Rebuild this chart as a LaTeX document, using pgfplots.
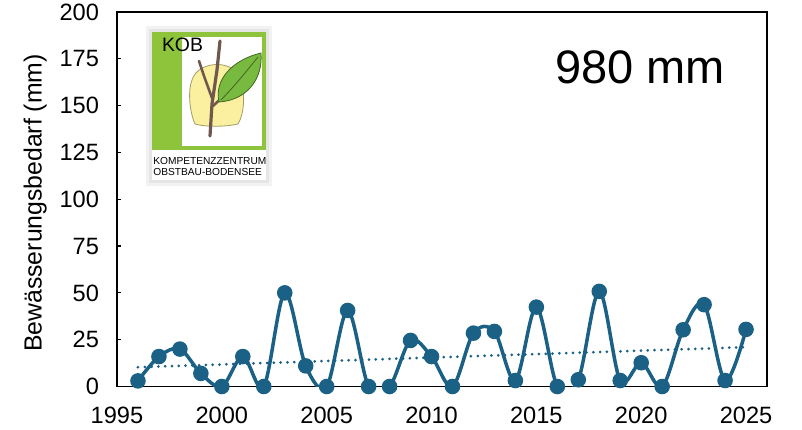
\documentclass[border=0pt]{standalone}
\usepackage{fontspec}
\setmainfont{Liberation Sans}
\usepackage{pgfplots}
\pgfplotsset{compat=1.18}

\definecolor{ser}{RGB}{27,96,133}
\definecolor{kobgreen}{RGB}{141,196,60}
\definecolor{kobyellow}{RGB}{250,240,160}
\definecolor{leafgreen}{RGB}{120,186,64}
\definecolor{branch}{RGB}{112,88,78}

\begin{document}
\begin{tikzpicture}
\begin{axis}[
  scale only axis,
  width=325pt, height=187.25pt,
  xmin=1995, xmax=2026, ymin=0, ymax=200,
  xtick={1995,2000,...,2025},
  ytick={0,25,...,200},
  xtick style={draw=none},
  ytick pos=left, tick align=inside,
  major tick length=2.2pt,
  tick style={black, line width=0.6pt},
  axis line style={black, line width=0.9pt},
  /pgf/number format/assume math mode=true,
  /pgf/number format/1000 sep={},
  tick label style={font=\fontsize{11.8pt}{13pt}\selectfont},
  y tick label style={xshift=-5.5pt},
  x tick label style={yshift=-6.5pt},
  ylabel={Bewässerungsbedarf (mm)},
  ylabel style={font=\fontsize{12.4pt}{14pt}\selectfont, at={(axis description cs:-0.126,0.49)}, anchor=center},
  clip mode=individual,
]
\addplot[ser, line width=1.5pt, dash pattern=on 0pt off 3.4pt, line cap=round]
  coordinates {(1996,10.3) (2025,21.0)};
\addplot[ser, line width=1.75pt, smooth, tension=0.55, mark=*, mark size=3pt,
  mark options={solid}] table {
x y
1996 3
1997 16
1998 20
1999 7
2000 0
2001 16
2002 0
2003 50
2004 11
2005 0
2006 40.6
2007 0
2008 0
2009 24.6
2010 16
2011 0
2012 28.5
2013 29.4
2014 3.2
2015 42.4
2016 0
2017 3.6
2018 50.8
2019 3.2
2020 12.7
2021 0
2022 30.3
2023 43.7
2024 3.2
2025 30.5
};
\end{axis}
\begin{scope}[shift={(current axis.north west)}, xshift=-58.5pt, yshift=6pt, x=0.5pt, y=-0.5pt]
  % logo shadow and background
  \fill[black!5] (146,26) rectangle (272,186);
  \fill[black!10] (149,29) rectangle (269,183);
  \fill[white] (152,32) rectangle (266,180);
  % green frame
  \fill[kobgreen] (152,32) rectangle (266,150);
  \fill[white] (182,37) rectangle (262,146);
  \node[font=\fontsize{9.7pt}{10pt}\selectfont, inner sep=0pt] at (182.5,45) {KOB};
  % yellow blob
  \filldraw[fill=kobyellow, draw=black!35!kobyellow, line width=0.4pt]
    (195,124) .. controls (189,110) and (188,90) .. (192,80)
    .. controls (198,60) and (236,58) .. (242,82)
    .. controls (245,98) and (244,114) .. (238,124)
    .. controls (225,127) and (205,127) .. (195,124) -- cycle;
  % branches
  \draw[branch, line width=1.6pt, line cap=round, line join=round]
    (210,136) -- (212,104) -- (217,70) -- (220,41);
  \draw[branch, line width=1.3pt, line cap=round] (212,98) -- (204,76) -- (199,61);
  \draw[branch, line width=1.3pt, line cap=round] (213,106) -- (228,92) -- (240,80);
  % leaf
  \filldraw[fill=leafgreen, draw=black!45!leafgreen, line width=0.4pt]
    (219,102) .. controls (214,80) and (232,60) .. (261,53)
    .. controls (263,78) and (248,100) .. (219,102) -- cycle;
  \draw[black!45!leafgreen, line width=0.4pt] (221,100) .. controls (236,84) .. (258,57);
  % logo text
  \node[inner sep=0pt, anchor=north west] at (153,156)
    {\resizebox{56.5pt}{!}{\begin{tabular}{@{}l@{}}KOMPETENZZENTRUM\\[-2pt] OBSTBAU-BODENSEE\end{tabular}}};
  % total
  \node[font=\fontsize{23.5pt}{26pt}\selectfont, inner sep=0pt] at (640,67) {980 mm};
  \pgfresetboundingbox
  \path (0,0) rectangle (802,429);
\end{scope}
\end{tikzpicture}
\end{document}
